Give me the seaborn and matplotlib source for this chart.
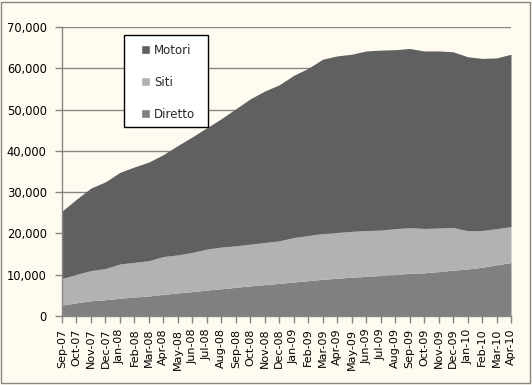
import matplotlib
matplotlib.use("Agg")
import matplotlib.pyplot as plt
import seaborn as sns
import numpy as np
import pandas as pd
from matplotlib.patches import Rectangle, Patch

months = ["Sep-07", "Oct-07", "Nov-07", "Dec-07", "Jan-08", "Feb-08", "Mar-08", "Apr-08",
          "May-08", "Jun-08", "Jul-08", "Aug-08", "Sep-08", "Oct-08", "Nov-08", "Dec-08",
          "Jan-09", "Feb-09", "Mar-09", "Apr-09", "May-09", "Jun-09", "Jul-09", "Aug-09",
          "Sep-09", "Oct-09", "Nov-09", "Dec-09", "Jan-10", "Feb-10", "Mar-10", "Apr-10"]

diretto = [2650, 3200, 3700, 3950, 4300, 4600, 4850, 5250, 5600, 5900, 6300, 6600, 6950, 7300,
           7600, 7900, 8250, 8550, 8900, 9150, 9400, 9600, 9800, 10000, 10350, 10450, 10750,
           11100, 11400, 11800, 12400, 12950]
siti = [6450, 6900, 7300, 7550, 8300, 8400, 8550, 9150, 9200, 9500, 9900, 10100, 10050, 10100,
        10200, 10300, 10750, 10950, 11100, 11100, 11100, 11100, 11000, 11150, 11050, 10750,
        10550, 10350, 9250, 8900, 8750, 8700]
motori = [16300, 18200, 20000, 21000, 22200, 23100, 23900, 24700, 26500, 28000, 29400, 31100,
          33200, 35200, 36700, 37800, 39300, 40500, 42200, 42750, 42900, 43500, 43600, 43350,
          43400, 43000, 42900, 42550, 42150, 41700, 41350, 41750]

df = pd.DataFrame({"month": months, "Diretto": diretto, "Siti": siti, "Motori": motori})

sns.set_theme(style="white")
plt.rcParams['font.family'] = ['DejaVu Sans']

W, H = 532, 385
bg = "#fffbf0"
fig = plt.figure(figsize=(W / 100, H / 100), dpi=100, facecolor=bg)
ax = fig.add_axes([62/W, 1-316/H, (511-62)/W, (316-27)/H])
ax.set_facecolor(bg)

x = np.arange(len(months))
colors = ["#808080", "#b2b2b2", "#606060"]
ax.stackplot(x, df["Diretto"], df["Siti"], df["Motori"], colors=colors,
             labels=["Diretto", "Siti", "Motori"], linewidth=0, zorder=2)

ax.set_xlim(0, len(months) - 1)
ax.set_ylim(0, 70000)
ax.set_yticks(np.arange(0, 70001, 10000))
ax.set_yticklabels([f"{v:,}" for v in range(0, 70001, 10000)], fontsize=8.3, color="black")
ax.set_xticks(x)
ax.set_xticklabels(months, rotation=90, fontsize=8, color="black")
ax.yaxis.grid(True, color="#868686", linewidth=1, zorder=1)
ax.set_axisbelow(True)
sns.despine(ax=ax, top=True, right=True)
for s in ["left", "bottom"]:
    ax.spines[s].set_color("#868686")
    ax.spines[s].set_linewidth(1)
    ax.spines[s].set_zorder(3)
ax.tick_params(axis="both", which="both", direction="out", length=5, width=1,
               color="#868686", left=True, bottom=True)
ax.tick_params(axis="y", pad=6)
ax.tick_params(axis="x", pad=4)

# legend box (manual frame) and entries
fig.patches.append(Rectangle((124/W, 1-127/H), (208-124)/W, (127-35)/H,
                             transform=fig.transFigure, facecolor="white",
                             edgecolor="black", linewidth=1, zorder=4))
handles = [Patch(facecolor=colors[2], label="Motori"),
           Patch(facecolor=colors[1], label="Siti"),
           Patch(facecolor=colors[0], label="Diretto")]
leg = fig.legend(handles=handles, loc="upper left",
                 bbox_to_anchor=(141/W, 1-44/H), fontsize=8.5,
                 frameon=False, handlelength=0.8, handleheight=0.8, handletextpad=0.3,
                 labelspacing=1.6, borderpad=0, borderaxespad=0)
leg.set_zorder(5)

fig.patches.append(Rectangle((1/W, 2/H), 529/W, 381/H, transform=fig.transFigure,
                             fill=False, edgecolor="#868686", linewidth=1))

fig.savefig("out.png", dpi=100, facecolor=bg)
